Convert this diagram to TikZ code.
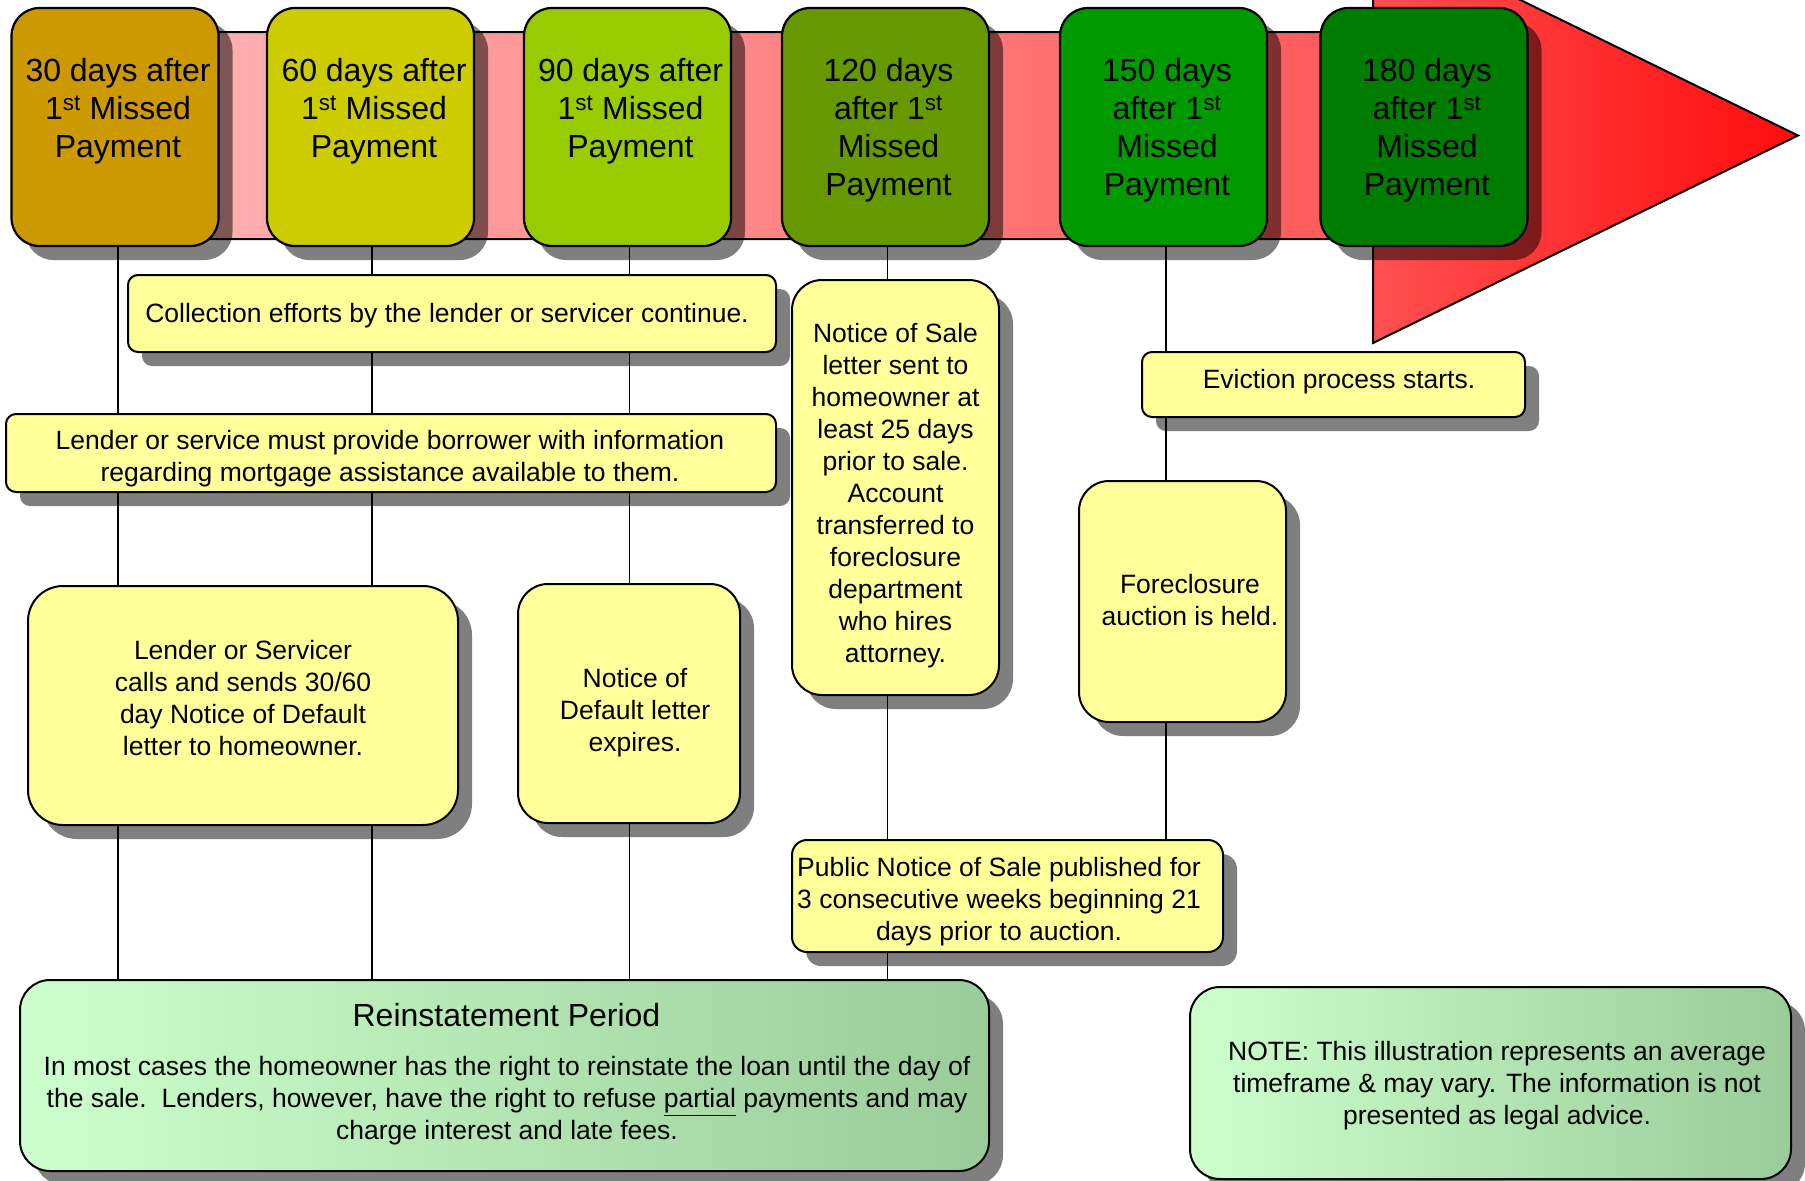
\documentclass[tikz,border=0pt]{standalone}
\usepackage{fontspec}
\setmainfont{Liberation Sans}
\usetikzlibrary{shadows}
\definecolor{hc1}{RGB}{204,153,0}
\definecolor{hc2}{RGB}{204,204,0}
\definecolor{hc3}{RGB}{153,204,0}
\definecolor{hc4}{RGB}{102,153,0}
\definecolor{hc5}{RGB}{0,153,0}
\definecolor{hc6}{RGB}{0,125,0}
\definecolor{ybox}{RGB}{255,255,153}
\definecolor{gl}{RGB}{204,255,204}
\definecolor{gr}{RGB}{153,204,153}
\definecolor{bandl}{RGB}{255,188,188}
\definecolor{bandr}{RGB}{255,88,88}
\definecolor{tril}{RGB}{255,80,80}
\definecolor{trir}{RGB}{255,12,12}
\newcommand{\ulpart}[1]{\underline{#1}}
\begin{document}
\begin{tikzpicture}[x=1pt,y=-1pt,
  shad/.style={drop shadow={shadow xshift=14pt,shadow yshift=-14pt,opacity=0.5,fill=black}},
  hbox/.style={draw=black,line width=2.2pt,rounded corners=28pt,minimum width=207pt,minimum height=238pt,inner sep=0pt,shad},
  yb/.style={draw=black,line width=2pt,fill=ybox,inner sep=0pt,shad},
  gb/.style={draw=black,line width=2pt,left color=gl,right color=gr,rounded corners=30pt,inner sep=0pt,shad},
  htxt/.style={font=\fontsize{32}{38}\selectfont,align=center,anchor=north,inner sep=0pt},
  btxt/.style={font=\fontsize{26.5}{32}\selectfont,align=center,inner sep=0pt},
  conn/.style={line width=1.6pt}]
\useasboundingbox (0,0) rectangle (1805,1181);
\clip (0,0) rectangle (1805,1181);

% arrow band
\shade[left color=bandl,right color=bandr] (40,32) rectangle (1373,239);
\shade[left color=tril,right color=trir] (1373,-72) -- (1798,135.5) -- (1373,343) -- cycle;
\draw[line width=2pt,line join=miter] (40,32) -- (1373,32) -- (1373,-72) -- (1798,135.5) -- (1373,343) -- (1373,239) -- (40,239) -- cycle;

% header boxes
\node[hbox,fill=hc1] (h1) at (115,127) {};
\node[hbox,fill=hc2] (h2) at (370.5,127) {};
\node[hbox,fill=hc3] (h3) at (627.5,127) {};
\node[hbox,fill=hc4] (h4) at (885.5,127) {};
\node[hbox,fill=hc5] (h5) at (1163.5,127) {};
\node[hbox,fill=hc6] (h6) at (1424,127) {};
\node[htxt] (t1) at (118,58) {30 days after\\1\textsuperscript{st} Missed\\Payment};
\node[htxt] (t2) at (374,58) {60 days after\\1\textsuperscript{st} Missed\\Payment};
\node[htxt] (t3) at (630.5,58) {90 days after\\1\textsuperscript{st} Missed\\Payment};
\node[htxt] (t4) at (888.5,58) {120 days\\after 1\textsuperscript{st}\\Missed\\Payment};
\node[htxt] (t5) at (1167,58) {150 days\\after 1\textsuperscript{st}\\Missed\\Payment};
\node[htxt] (t6) at (1427,58) {180 days\\after 1\textsuperscript{st}\\Missed\\Payment};

% yellow boxes
\node[yb,rounded corners=10pt,minimum width=648pt,minimum height=77pt] (coll) at (452,313.5) {};
\node[btxt] (coll-t) at (447,316) {Collection efforts by the lender or servicer continue.};
\node[yb,rounded corners=10pt,minimum width=770pt,minimum height=78pt] (ls) at (391,453) {};
\node[btxt] (ls-t) at (390,459) {Lender or service must provide borrower with information\\regarding mortgage assistance available to them.};
\node[yb,rounded corners=35pt,minimum width=430pt,minimum height=239pt] (lsr) at (243,705.5) {};
\node[btxt] (lsr-t) at (243,698.5) {Lender or Servicer\\calls and sends 30/60\\day Notice of Default\\letter to homeowner.};
\node[yb,rounded corners=30pt,minimum width=222pt,minimum height=239pt] (nod) at (629,703.5) {};
\node[btxt] (nod-t) at (635,713) {Notice of\\Default letter\\expires.};
\node[yb,rounded corners=30pt,minimum width=207pt,minimum height=415pt] (nos) at (895.5,487.5) {};
\node[btxt] (nos-t) at (895.5,496) {Notice of Sale\\letter sent to\\homeowner at\\least 25 days\\prior to sale.\\Account\\transferred to\\foreclosure\\department\\who hires\\attorney.};
\node[yb,rounded corners=10pt,minimum width=383pt,minimum height=65pt] (ev) at (1333.5,384.5) {};
\node[btxt] (ev-t) at (1339,382) {Eviction process starts.};
\node[yb,rounded corners=30pt,minimum width=207pt,minimum height=241pt] (fa) at (1182.5,601.5) {};
\node[btxt] (fa-t) at (1190,600.5) {Foreclosure\\auction is held.};
\node[yb,rounded corners=15pt,minimum width=431pt,minimum height=112pt] (pn) at (1007.5,896) {};
\node[btxt] (pn-t) at (999,902) {Public Notice of Sale published for\\3 consecutive weeks beginning 21\\days prior to auction.};

% green boxes
\node[gb,minimum width=969pt,minimum height=191pt] (rs) at (504.5,1075.5) {};
\node[inner sep=0pt,font=\fontsize{32}{38}\selectfont] (rs-title) at (506.5,1015) {Reinstatement Period};
\node[btxt] (rs-t) at (507,1101) {In most cases the homeowner has the right to reinstate the loan until the day of\\the sale.\ \ Lenders, however, have the right to refuse \ulpart{partial} payments and may\\charge interest and late fees.};
\node[gb,minimum width=601pt,minimum height=192pt] (note) at (1490.5,1083) {};
\node[btxt] (note-t) at (1497,1086) {NOTE: This illustration represents an average\\timeframe \& may vary. The information is not\\presented as legal advice.};

% connector columns
\coordinate (c1) at (118,0);
\coordinate (c2) at (372,0);
\coordinate (c3) at (629.5,0);
\coordinate (c4) at (887.5,0);
\coordinate (c5) at (1166,0);

\draw[conn] (c1 |- h1.south) -- (c1 |- ls.north);
\draw[conn] (c1 |- ls.south) -- (c1 |- lsr.north);
\draw[conn] (c1 |- lsr.south) -- (c1 |- rs.north);

\draw[conn] (c2 |- h2.south) -- (c2 |- coll.north);
\draw[conn] (c2 |- coll.south) -- (c2 |- ls.north);
\draw[conn] (c2 |- ls.south) -- (c2 |- lsr.north);
\draw[conn] (c2 |- lsr.south) -- (c2 |- rs.north);

\draw[conn] (c3 |- h3.south) -- (c3 |- coll.north);
\draw[conn] (c3 |- coll.south) -- (c3 |- ls.north);
\draw[conn] (c3 |- ls.south) -- (c3 |- nod.north);
\draw[conn] (c3 |- nod.south) -- (c3 |- rs.north);

\draw[conn] (c4 |- h4.south) -- (c4 |- nos.north);
\draw[conn] (c4 |- nos.south) -- (c4 |- pn.north);
\draw[conn] (c4 |- pn.south) -- (c4 |- rs.north);

\draw[conn] (c5 |- h5.south) -- (c5 |- ev.north);
\draw[conn] (c5 |- ev.south) -- (c5 |- fa.north);
\draw[conn] (c5 |- fa.south) -- (c5 |- pn.north);
\end{tikzpicture}
\end{document}
